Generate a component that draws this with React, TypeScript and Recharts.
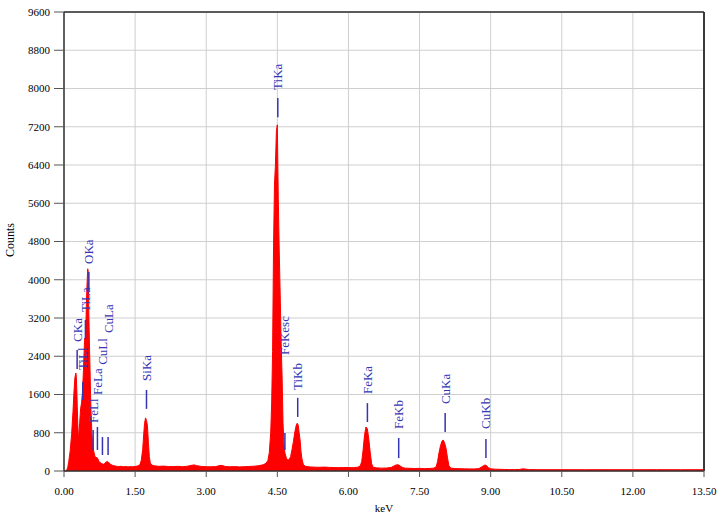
import { ComposedChart, Area, XAxis, YAxis, CartesianGrid, ReferenceLine, ReferenceDot } from 'recharts';

const xTicks = [0, 1.5, 3, 4.5, 6, 7.5, 9, 10.5, 12, 13.5];
const yTicks = [0, 800, 1600, 2400, 3200, 4000, 4800, 5600, 6400, 7200, 8000, 8800, 9600];

// [keV, counts]
const spectrum: [number, number][] = [
  [0.0, 0], [0.05, 0], [0.08, 80], [0.1, 200], [0.13, 420], [0.16, 760], [0.19, 1250], [0.21, 1650],
  [0.23, 1950], [0.25, 2050], [0.26, 1980], [0.27, 1700], [0.28, 1350], [0.29, 1000], [0.3, 760],
  [0.31, 720], [0.33, 1000], [0.35, 1300], [0.37, 1420], [0.39, 1650], [0.41, 2100], [0.43, 2650],
  [0.44, 2780], [0.45, 2720], [0.46, 2950], [0.47, 3400], [0.48, 3750], [0.49, 4000], [0.5, 4230],
  [0.51, 4180], [0.52, 3500], [0.53, 3000], [0.54, 2500], [0.55, 2100], [0.56, 1600], [0.57, 1250],
  [0.58, 1000], [0.59, 760], [0.61, 500], [0.63, 400], [0.65, 320], [0.67, 270], [0.69, 290],
  [0.71, 260], [0.74, 200], [0.77, 170], [0.8, 150], [0.83, 140], [0.86, 160], [0.89, 190], [0.92, 200],
  [0.95, 170], [0.98, 140], [1.02, 120], [1.06, 110], [1.1, 100], [1.15, 92], [1.2, 98], [1.25, 88],
  [1.3, 94], [1.35, 86], [1.4, 92], [1.45, 88], [1.5, 96], [1.55, 104], [1.6, 130], [1.63, 220],
  [1.66, 450], [1.68, 750], [1.7, 1000], [1.72, 1110], [1.74, 1060], [1.76, 950], [1.78, 600],
  [1.8, 300], [1.82, 170], [1.85, 125], [1.9, 110], [1.95, 104], [2.0, 98], [2.1, 102], [2.2, 95],
  [2.3, 92], [2.4, 98], [2.5, 90], [2.6, 100], [2.7, 120], [2.75, 128], [2.8, 112], [2.9, 95],
  [3.0, 90], [3.1, 88], [3.2, 92], [3.3, 118], [3.35, 112], [3.4, 95], [3.5, 88], [3.6, 92],
  [3.7, 86], [3.8, 90], [3.9, 95], [4.0, 100], [4.1, 110], [4.2, 130], [4.26, 160], [4.3, 220],
  [4.33, 380], [4.36, 800], [4.38, 1400], [4.4, 2500], [4.42, 4700], [4.44, 6000], [4.46, 6400],
  [4.48, 7100], [4.5, 7240], [4.52, 5700], [4.54, 4600], [4.56, 3700], [4.58, 2700], [4.6, 2000],
  [4.62, 1000], [4.64, 560], [4.66, 380], [4.69, 270], [4.72, 230], [4.75, 240], [4.78, 300],
  [4.81, 450], [4.84, 620], [4.87, 820], [4.9, 960], [4.92, 1000], [4.94, 960], [4.96, 800],
  [4.98, 650], [5.0, 400], [5.02, 250], [5.05, 130], [5.1, 95], [5.2, 85], [5.3, 80], [5.4, 78],
  [5.5, 82], [5.6, 75], [5.7, 72], [5.8, 70], [5.9, 74], [6.0, 72], [6.1, 70], [6.2, 80], [6.25, 110],
  [6.28, 200], [6.31, 450], [6.34, 760], [6.37, 920], [6.4, 880], [6.43, 660], [6.46, 380],
  [6.49, 150], [6.52, 80], [6.6, 65], [6.7, 60], [6.8, 62], [6.9, 75], [6.95, 100], [7.0, 125],
  [7.05, 130], [7.1, 100], [7.15, 70], [7.2, 60], [7.3, 55], [7.4, 52], [7.5, 55], [7.6, 50],
  [7.7, 52], [7.8, 60], [7.85, 90], [7.88, 200], [7.91, 380], [7.94, 520], [7.97, 620], [8.0, 650],
  [8.03, 580], [8.06, 470], [8.09, 270], [8.12, 110], [8.16, 60], [8.25, 50], [8.35, 48], [8.45, 45],
  [8.55, 44], [8.65, 42], [8.75, 50], [8.8, 80], [8.85, 110], [8.88, 125], [8.91, 115], [8.95, 70],
  [9.0, 45], [9.1, 38], [9.2, 35], [9.3, 32], [9.4, 30], [9.5, 30], [9.6, 32], [9.68, 45], [9.72, 42],
  [9.8, 30], [10.0, 28], [10.5, 28], [11.0, 27], [11.5, 28], [12.0, 27], [12.5, 28], [13.0, 27],
  [13.5, 28],
];

// line markers: label start, tick top, tick bottom (counts)
const peaks = [
  { name: 'CKa', keV: 0.277, text: 2700, top: 2530, bottom: 2135 },
  { name: 'TiLl', keV: 0.395, text: 2110, top: 1860, bottom: 1485 },
  { name: 'TiLa', keV: 0.452, text: 3325, top: 3160, bottom: 2760 },
  { name: 'OKa', keV: 0.525, text: 4330, top: 4160, bottom: 3765 },
  { name: 'FeLl', keV: 0.615, text: 1005, top: 860, bottom: 440 },
  { name: 'FeLa', keV: 0.705, text: 1590, top: 920, bottom: 440 },
  { name: 'CuLl', keV: 0.811, text: 2220, top: 710, bottom: 335 },
  { name: 'CuLa', keV: 0.93, text: 2885, top: 710, bottom: 335 },
  { name: 'SiKa', keV: 1.74, text: 1885, top: 1695, bottom: 1300 },
  { name: 'TiKa', keV: 4.51, text: 7970, top: 7800, bottom: 7400 },
  { name: 'FeKesc', keV: 4.66, text: 2425, top: 795, bottom: 440 },
  { name: 'TiKb', keV: 4.93, text: 1695, top: 1530, bottom: 1130 },
  { name: 'FeKa', keV: 6.4, text: 1610, top: 1420, bottom: 1025 },
  { name: 'FeKb', keV: 7.06, text: 880, top: 690, bottom: 270 },
  { name: 'CuKa', keV: 8.04, text: 1400, top: 1215, bottom: 815 },
  { name: 'CuKb', keV: 8.9, text: 880, top: 670, bottom: 270 },
];

const data = spectrum.map(([keV, counts]) => ({ keV, counts }));

const SERIF = '"Liberation Serif", "Times New Roman", serif';
const BLUE = '#3434b4';

function PeakLabel({ cx, cy, name }: any) {
  const x = cx + 4.5;
  return (
    <text x={x} y={cy} transform={`rotate(-90 ${x} ${cy})`} fill={BLUE} fontSize={13} fontFamily={SERIF}>
      {name}
    </text>
  );
}

export default function App() {
  return (
    <div style={{ position: 'absolute', left: 0, top: 0, background: '#fff' }}>
      <ComposedChart width={719} height={519} data={data} margin={{ top: 12, right: 15, left: 0, bottom: 0 }}>
        <CartesianGrid stroke="#cfcfcf" strokeWidth={1} />
        <XAxis
          dataKey="keV"
          type="number"
          domain={[0, 13.5]}
          ticks={xTicks}
          interval={0}
          tickFormatter={(v: number) => v.toFixed(2)}
          height={48}
          tickSize={6}
          tickMargin={10}
          axisLine={{ stroke: '#333', strokeWidth: 1.5 }}
          tickLine={{ stroke: '#555' }}
          tick={{ fill: '#000', fontSize: 11, fontFamily: SERIF }}
          label={{
            content: () => (
              <text x={384} y={512} textAnchor="middle" fontSize={11} fontFamily={SERIF} fill="#000">
                keV
              </text>
            ),
          }}
        />
        <YAxis
          type="number"
          domain={[0, 9600]}
          ticks={yTicks}
          interval={0}
          width={64}
          tickSize={10}
          tickMargin={4}
          axisLine={{ stroke: '#333', strokeWidth: 1.5 }}
          tickLine={{ stroke: '#555' }}
          tick={{ fill: '#000', fontSize: 11, fontFamily: SERIF }}
          label={{
            content: () => (
              <text x={14} y={240} transform="rotate(-90 14 240)" textAnchor="middle" fontSize={12} fontFamily={SERIF} fill="#000">
                Counts
              </text>
            ),
          }}
        />
        <Area
          dataKey="counts"
          type="linear"
          stroke="#ff0000"
          strokeWidth={1}
          fill="#ff0000"
          fillOpacity={1}
          isAnimationActive={false}
          dot={false}
          activeDot={false}
        />
        <ReferenceLine y={9600} stroke="#5a5a5a" strokeWidth={2} />
        <ReferenceLine x={13.5} stroke="#3a3a3a" strokeWidth={2} />
        {peaks.map((p) => (
          <ReferenceLine
            key={`l-${p.name}`}
            segment={[{ x: p.keV, y: p.top }, { x: p.keV, y: p.bottom }]}
            stroke={BLUE}
            strokeWidth={1.5}
          />
        ))}
        {peaks.map((p) => (
          <ReferenceDot
            key={`t-${p.name}`}
            x={p.keV}
            y={p.text}
            r={0}
            shape={(props: any) => <PeakLabel {...props} name={p.name} />}
          />
        ))}
      </ComposedChart>
    </div>
  );
}
